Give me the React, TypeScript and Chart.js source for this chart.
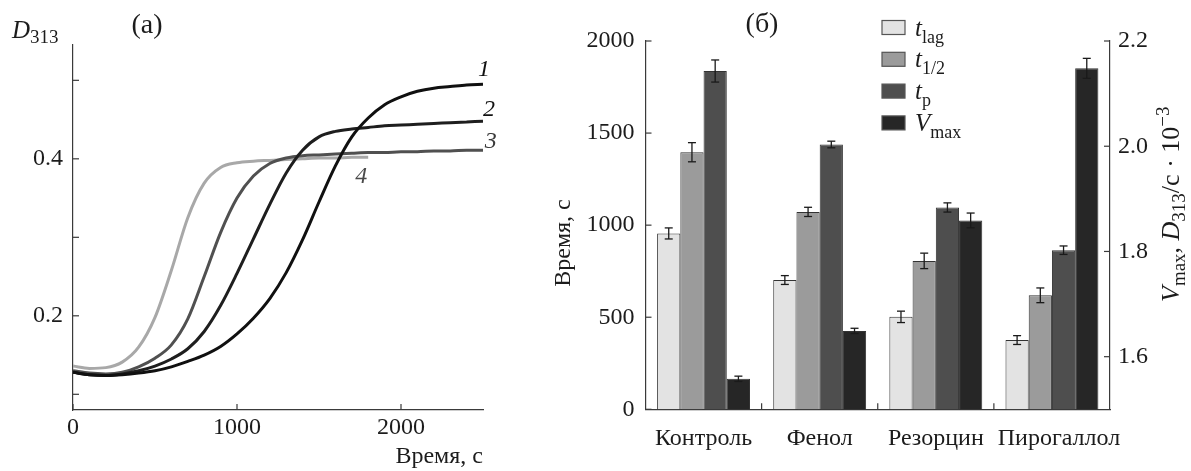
import React, { useEffect, useRef } from 'react';
import { Chart, registerables } from 'chart.js';

Chart.register(...registerables);

const SERIF = '"Liberation Serif", "DejaVu Serif", serif';
const INK = '#1c1c1c';
const AXIS = '#3a3a3a';

// ---------- panel (a): kinetic curves D313(t) ----------
const timeSec = [0, 100, 200, 300, 400, 500, 600, 700, 800, 900, 1000, 1100, 1200, 1300, 1400, 1500, 1600, 1700, 1800, 1900, 2000, 2100, 2200, 2300, 2400, 2500];
const curve1 = [0.128, 0.125, 0.124, 0.125, 0.127, 0.130, 0.135, 0.142, 0.150, 0.161, 0.177, 0.197, 0.222, 0.255, 0.297, 0.345, 0.391, 0.428, 0.452, 0.469, 0.479, 0.486, 0.490, 0.492, 0.494, 0.495];
const curve2 = [0.128, 0.125, 0.124, 0.126, 0.130, 0.136, 0.145, 0.158, 0.180, 0.213, 0.254, 0.298, 0.342, 0.382, 0.411, 0.428, 0.435, 0.438, 0.440, 0.442, 0.443, 0.444, 0.445, 0.446, 0.447, 0.448];
const curve3 = [0.130, 0.127, 0.126, 0.128, 0.135, 0.146, 0.163, 0.196, 0.250, 0.306, 0.350, 0.378, 0.394, 0.401, 0.404, 0.405, 0.406, 0.407, 0.408, 0.408, 0.409, 0.409, 0.410, 0.410, 0.411, 0.411];
const curve4 = [0.136, 0.133, 0.134, 0.141, 0.160, 0.198, 0.258, 0.325, 0.369, 0.389, 0.395, 0.397, 0.398, 0.399, 0.400, 0.401, 0.401, 0.402, 0.402];
const curveNames = ['1', '2', '3', '4'];
const curveColors = ['#101010', '#1e1e1e', '#505050', '#a8a8a8'];
const curveLabelAnchors = [[2506, 0.513], [2536, 0.462], [2548, 0.422], [1757, 0.377]];
const xTicksA = [0, 1000, 2000];
const yTicksA = [0.1, 0.2, 0.3, 0.4, 0.5];
const yLabeledA = [0.2, 0.4];

// ---------- panel (б): bar chart ----------
const categories = ['Контроль', 'Фенол', 'Резорцин', 'Пирогаллол'];
const tLag = [955, 702, 502, 376];
const tLagErr = [30, 24, 31, 24];
const tHalf = [1396, 1072, 806, 619];
const tHalfErr = [52, 25, 42, 40];
const tP = [1837, 1438, 1096, 864];
const tPErr = [60, 18, 25, 23];
const vMax = [1.558, 1.649, 1.859, 2.148];
const vMaxErr = [0.005, 0.005, 0.014, 0.019];
const seriesMain = ['t', 't', 't', 'V'];
const seriesSub = ['lag', '1/2', 'p', 'max'];
const seriesColors = ['#e3e3e3', '#9b9b9b', '#4e4e4e', '#262626'];
const leftTicksB = [0, 500, 1000, 1500, 2000];
const rightTicksB = [1.6, 1.8, 2.0, 2.2];

function runs(ctx: any, x: number, y: number, parts: any[]) {
  let cx = x;
  for (const [text, font, dy] of parts) {
    ctx.font = font;
    ctx.fillText(text, cx, y + dy);
    cx += ctx.measureText(text).width;
  }
  return cx;
}

function tickLine(ctx: any, x1: number, y1: number, x2: number, y2: number) {
  ctx.beginPath();
  ctx.moveTo(x1, y1);
  ctx.lineTo(x2, y2);
  ctx.stroke();
}

const panelAPlugin = {
  id: 'panelA',
  afterDraw(chart: any) {
    const { ctx, chartArea: a, scales } = chart;
    ctx.save();
    ctx.strokeStyle = AXIS;
    ctx.lineWidth = 1.2;
    for (const v of xTicksA) {
      const px = scales.x.getPixelForValue(v);
      tickLine(ctx, px, a.bottom, px, a.bottom - 6);
    }
    for (const v of yTicksA) {
      const py = scales.y.getPixelForValue(v);
      tickLine(ctx, a.left, py, a.left + 6, py);
    }
    ctx.fillStyle = INK;
    ctx.textBaseline = 'alphabetic';
    ctx.textAlign = 'left';
    runs(ctx, 12, 38, [['D', `italic 25px ${SERIF}`, 0], ['313', `19px ${SERIF}`, 5]]);
    ctx.textAlign = 'center';
    ctx.font = `28px ${SERIF}`;
    ctx.fillText('(a)', 147, 33);
    ctx.textAlign = 'right';
    ctx.font = `24px ${SERIF}`;
    ctx.fillText('Время, с', a.right, 463);
    ctx.textAlign = 'center';
    ctx.textBaseline = 'middle';
    ctx.font = `italic 24px ${SERIF}`;
    curveNames.forEach((n, i) => {
      const [t, d] = curveLabelAnchors[i];
      ctx.fillStyle = i < 2 ? '#111' : i === 2 ? '#3a3a3a' : '#4a4a4a';
      ctx.fillText(n, scales.x.getPixelForValue(t), scales.y.getPixelForValue(d));
    });
    ctx.restore();
  },
};

const panelBPlugin = {
  id: 'panelB',
  afterDatasetsDraw(chart: any) {
    const { ctx } = chart;
    ctx.save();
    ctx.strokeStyle = '#1a1a1a';
    ctx.lineWidth = 1.3;
    chart.data.datasets.forEach((ds: any, i: number) => {
      const meta = chart.getDatasetMeta(i);
      const ys = chart.scales[ds.yAxisID];
      meta.data.forEach((bar: any, j: number) => {
        const v = ds.data[j];
        const e = ds.errors[j];
        const top = ys.getPixelForValue(v + e);
        const bot = ys.getPixelForValue(v - e);
        tickLine(ctx, bar.x, top, bar.x, bot);
        tickLine(ctx, bar.x - 4, top, bar.x + 4, top);
        tickLine(ctx, bar.x - 4, bot, bar.x + 4, bot);
      });
    });
    ctx.restore();
  },
  afterDraw(chart: any) {
    const { ctx, chartArea: a, scales } = chart;
    ctx.save();
    ctx.strokeStyle = AXIS;
    ctx.lineWidth = 1.2;
    for (const v of leftTicksB) {
      const py = scales.y.getPixelForValue(v);
      tickLine(ctx, a.left, py, a.left + 6, py);
    }
    for (const v of rightTicksB) {
      const py = scales.y1.getPixelForValue(v);
      tickLine(ctx, a.right, py, a.right - 6, py);
    }
    for (let i = 0; i < categories.length - 1; i++) {
      const px = (scales.x.getPixelForValue(i) + scales.x.getPixelForValue(i + 1)) / 2;
      tickLine(ctx, px, a.bottom, px, a.bottom - 6);
    }
    // category labels (nudged apart if they would collide)
    ctx.fillStyle = INK;
    ctx.font = `24px ${SERIF}`;
    ctx.textAlign = 'left';
    ctx.textBaseline = 'alphabetic';
    let prevRight = -Infinity;
    categories.forEach((c, i) => {
      const w = ctx.measureText(c).width;
      let left = scales.x.getPixelForValue(i) - w / 2;
      if (left < prevRight + 14) left = prevRight + 14;
      ctx.fillText(c, left, a.bottom + 36);
      prevRight = left + w;
    });
    // panel tag
    ctx.textAlign = 'center';
    ctx.font = `28px ${SERIF}`;
    ctx.fillText('(б)', 242, 32);
    // left axis title
    ctx.save();
    ctx.translate(50, 243);
    ctx.rotate(-Math.PI / 2);
    ctx.font = `24px ${SERIF}`;
    ctx.textAlign = 'center';
    ctx.fillText('Время, с', 0, 0);
    ctx.restore();
    // right axis title
    ctx.save();
    ctx.translate(659, 302);
    ctx.rotate(-Math.PI / 2);
    ctx.textAlign = 'left';
    runs(ctx, 0, 0, [
      ['V', `italic 26px ${SERIF}`, 0],
      ['max', `19px ${SERIF}`, 6],
      [', ', `26px ${SERIF}`, 0],
      ['D', `italic 26px ${SERIF}`, 0],
      ['313', `19px ${SERIF}`, 6],
      ['/с · 10', `26px ${SERIF}`, 0],
      ['−3', `19px ${SERIF}`, -10],
    ]);
    ctx.restore();
    // legend
    chart.data.datasets.forEach((ds: any, i: number) => {
      const by = 20.5 + i * 31.8;
      ctx.fillStyle = ds.backgroundColor;
      ctx.fillRect(362, by, 23, 14);
      ctx.strokeStyle = '#555';
      ctx.lineWidth = 1.2;
      ctx.strokeRect(362, by, 23, 14);
      ctx.fillStyle = INK;
      ctx.textAlign = 'left';
      runs(ctx, 395, by + 15, [
        [seriesMain[i], `italic 25px ${SERIF}`, 0],
        [seriesSub[i], `18px ${SERIF}`, 7],
      ]);
    });
    ctx.restore();
  },
};

const axisFont = { family: SERIF, size: 24 };
const border = { display: true, color: AXIS, width: 1.2 };

export default function App() {
  const refA = useRef<HTMLCanvasElement>(null);
  const refB = useRef<HTMLCanvasElement>(null);

  useEffect(() => {
    const curves = [curve1, curve2, curve3, curve4];
    const chartA = new Chart(refA.current as any, {
      type: 'line',
      data: {
        datasets: curves.map((c, i) => ({
          label: curveNames[i],
          data: c.map((v, j) => ({ x: timeSec[j], y: v })),
          borderColor: curveColors[i],
          borderWidth: 3,
          pointRadius: 0,
          cubicInterpolationMode: 'monotone',
          fill: false,
        })),
      },
      options: {
        animation: false,
        responsive: false,
        layout: { padding: { left: 0, top: 45, right: 37, bottom: 0 } },
        plugins: { legend: { display: false }, tooltip: { enabled: false } },
        scales: {
          x: {
            type: 'linear',
            min: 0,
            max: 2500,
            afterBuildTicks: (s: any) => { s.ticks = xTicksA.map((v) => ({ value: v })); },
            afterFit: (s: any) => { s.height = 61; },
            grid: { display: false, drawTicks: false },
            border,
            ticks: { font: axisFont, color: INK, padding: 3, maxRotation: 0, autoSkip: false, callback: (v: any) => String(v) },
          },
          y: {
            type: 'linear',
            min: 0.08,
            max: 0.545,
            afterBuildTicks: (s: any) => { s.ticks = yTicksA.map((v) => ({ value: v })); },
            afterFit: (s: any) => { s.width = 73; },
            grid: { display: false, drawTicks: false },
            border,
            ticks: {
              font: axisFont, color: INK, padding: 10, autoSkip: false,
              callback: (v: any) => (yLabeledA.some((l) => Math.abs(l - v) < 1e-9) ? Number(v).toFixed(1) : ''),
            },
          },
        },
      } as any,
      plugins: [panelAPlugin],
    } as any);

    const mk = (label: string, data: number[], errors: number[], color: string, axis: string) => ({
      label, data, errors, yAxisID: axis, backgroundColor: color,
      borderColor: '#333', borderWidth: 1,
    });
    const chartB = new Chart(refB.current as any, {
      type: 'bar',
      data: {
        labels: categories,
        datasets: [
          mk('t_lag', tLag, tLagErr, seriesColors[0], 'y'),
          mk('t_1/2', tHalf, tHalfErr, seriesColors[1], 'y'),
          mk('t_p', tP, tPErr, seriesColors[2], 'y'),
          mk('V_max', vMax, vMaxErr, seriesColors[3], 'y1'),
        ],
      },
      options: {
        animation: false,
        responsive: false,
        layout: { padding: { left: 0, top: 41, right: 0, bottom: 0 } },
        datasets: { bar: { categoryPercentage: 0.8, barPercentage: 1 } },
        plugins: { legend: { display: false }, tooltip: { enabled: false } },
        scales: {
          x: {
            grid: { display: false, drawTicks: false },
            border,
            ticks: { display: false },
            afterFit: (s: any) => { s.height = 61.7; },
          },
          y: {
            position: 'left',
            min: 0,
            max: 2000,
            afterBuildTicks: (s: any) => { s.ticks = leftTicksB.map((v) => ({ value: v })); },
            afterFit: (s: any) => { s.width = 125.5; },
            grid: { display: false, drawTicks: false },
            border,
            ticks: { font: axisFont, color: INK, padding: 11, callback: (v: any) => String(v) },
          },
          y1: {
            position: 'right',
            min: 1.5,
            max: 2.2,
            afterBuildTicks: (s: any) => { s.ticks = rightTicksB.map((v) => ({ value: v })); },
            afterFit: (s: any) => { s.width = 81; },
            grid: { display: false, drawTicks: false },
            border,
            ticks: { font: axisFont, color: INK, padding: 8, callback: (v: any) => Number(v).toFixed(1) },
          },
        },
      } as any,
      plugins: [panelBPlugin],
    } as any);

    return () => {
      chartA.destroy();
      chartB.destroy();
    };
  }, []);

  return (
    <div style={{ position: 'fixed', left: 0, top: 0, width: 1191, height: 471, background: '#fff' }}>
      <canvas ref={refA} width={520} height={471} style={{ position: 'absolute', left: 0, top: 0 }} />
      <canvas ref={refB} width={671} height={471} style={{ position: 'absolute', left: 520, top: 0 }} />
    </div>
  );
}
